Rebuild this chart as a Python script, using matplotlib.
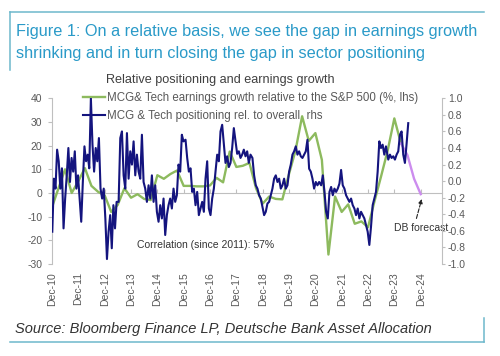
import numpy as np
import pandas as pd
import matplotlib
matplotlib.use("Agg")
import matplotlib.pyplot as plt
from matplotlib.lines import Line2D

plt.rcParams['font.family'] = ['Liberation Sans', 'DejaVu Sans']
plt.rcParams['axes.unicode_minus'] = False

# Earnings growth relative to S&P 500 (%, lhs), quarterly
green_dates = pd.date_range('2010-12-31', '2024-03-31', freq='QE')
green_vals = [-6, 2, 10, 0, 5, 10.5, 3, 0.5, -1, -8, -5, 2, -2, -0.5, -2.5, -3,
              7.5, 6, 8, 9.5, 3, 3, 2.8, 2.8, 3.2, 6.4, 4.5, 17.5, 11, 11.5, 12.7, 2,
              -4.5, -1.5, -2.5, -2.7, 8, 18, 32.4, 22, 25.3, 14, -26, -1.5, -8, -4.8,
              -13, -12, -14.5, -3.5, 7, 18, 31.5, 21]

# DB forecast (lhs)
fc_dates = pd.date_range('2024-03-31', '2024-12-31', freq='QE')
fc_vals = [21, 16, 6, -0.5]

# Positioning rel. to overall (rhs), read in segments
pos_a = [-0.61, 0.03, -0.09, 0.38, 0.24, -0.09, 0.155, -0.57, -0.21, 0.07, 0.40, -0.01,
         0.28, 0.115, 0.36, -0.09, 0.07, -0.21, -0.49, -0.01, 0.42, 0.24, 0.32, 0.155,
         1.0, 0.44, 0.115, 0.40, 0.24, 0.52, -0.09, -0.21, -0.09, -0.45, -0.94, -0.61,
         -0.41, -0.81, -0.29, -0.57, -0.25]
pos_b = [-0.25, 0.52, 0.60, 0.07, -0.09, 0.58, 0.03, 0.36, 0.20, 0.48, 0.07, 0.32,
         0.115, 0.03, 0.56, -0.01, -0.09, -0.25, -0.05, -0.21, 0.07, -0.25, -0.05, -0.37,
         -0.49, -0.29, -0.45, -0.21, -0.65, -0.41, -0.29, -0.21, -0.33, -0.09, -0.25, -0.17,
         0.20, 0.115, 0.56, 0.48]
pos_c = [0.50, 0.28, 0.115, 0.155, -0.13, -0.09, -0.29, -0.13, -0.41, -0.33, -0.25, -0.37,
         0.03, 0.24, -0.33, -0.41, -0.21, -0.09, 0.115, 0.32, 0.24, 0.60, 0.68, 0.45,
         0.22, 0.30, 0.17, 0.22, 0.40, 0.64, 0.48, 0.33, 0.36, 0.28, 0.32, 0.38,
         0.30, 0.36, 0.22, 0.32]
pos_d = [0.28, 0.07, -0.05, -0.09, -0.17, -0.21, -0.31, -0.41, -0.37, -0.27, -0.25, -0.17,
         -0.09, 0.03, 0.07, -0.01, 0.03, -0.09, -0.05, 0.03, -0.09, -0.05, 0.115, 0.20,
         0.32, 0.36, 0.42, 0.32, 0.36, 0.30, 0.28, 0.32, 0.36, 0.50, 0.15, 0.115,
         0.03, -0.09, -0.01, -0.05, -0.01]
pos_e = [-0.05, 0.07, -0.13, -0.37, -0.45, -0.13, -0.07, -0.17, -0.09, -0.13, -0.09, -0.03,
         0.135, -0.05, -0.09, -0.17, -0.21, -0.25, -0.21, -0.29, -0.33, -0.41, -0.33, -0.45,
         -0.37, -0.41, -0.45, -0.53, -0.61, -0.77, -0.55, -0.29, -0.21, -0.13, 0.115, 0.48,
         0.40, 0.44, 0.32, 0.42]
pos_f = [0.26, 0.32, 0.28, 0.30, 0.26, 0.32, 0.36, 0.56, 0.60, 0.32, 0.22, 0.45, 0.70]

pos_segments = [
    ('2011-01-04', '2013-06-14', pos_a),
    ('2013-07-12', '2015-12-29', pos_b),
    ('2016-01-26', '2018-07-15', pos_c),
    ('2018-08-11', '2021-02-21', pos_d),
    ('2021-03-21', '2023-09-06', pos_e),
    ('2023-10-08', '2024-07-11', pos_f),
]

tick_dates = pd.date_range('2010-12-31', '2024-12-31', freq='YE')
tick_labels = [d.strftime('Dec-%y') for d in tick_dates]
left_ticks = [-30, -20, -10, 0, 10, 20, 30, 40]
right_ticks = [-1.0, -0.8, -0.6, -0.4, -0.2, 0.0, 0.2, 0.4, 0.6, 0.8, 1.0]

GREEN = '#8DBA5E'
NAVY = '#14147E'
VIOLET = '#CC8CEE'
GRAY = '#BFBFBF'
TXT = '#595959'
TEAL = '#2A9AC8'
FRAME = '#6DB8CC'

pos_dates = pd.DatetimeIndex([])
pos_vals = []
for start, end, vals in pos_segments:
    pos_dates = pos_dates.append(pd.date_range(start, end, periods=len(vals)))
    pos_vals += vals

fig = plt.figure(figsize=(5.0, 3.56), dpi=100)
ax = fig.add_axes([0.104, 0.2584, 0.7794, 0.4655])
ax2 = ax.twinx()
ax.patch.set_visible(False)
ax2.patch.set_visible(False)

l1, = ax.plot(green_dates, green_vals, color=GREEN, lw=1.7)
ax.plot(fc_dates, fc_vals, color=VIOLET, lw=1.7)
l2, = ax2.plot(pos_dates, pos_vals, color=NAVY, lw=1.5)

ax.set_ylim(-30, 40)
ax2.set_ylim(-1.0, 1.0)
ax.set_xlim(pd.Timestamp('2010-12-31'), pd.Timestamp('2025-10-18'))
ax.set_yticks(left_ticks)
ax2.set_yticks(right_ticks)
ax2.set_yticklabels([f'{v:.1f}' for v in right_ticks])

ax.set_xticks(tick_dates)
ax.set_xticklabels(tick_labels, rotation=90, fontsize=7.5, color=TXT)
ax.tick_params(axis='x', length=0, pad=6)
ax.tick_params(axis='y', labelsize=7.5, labelcolor=TXT, color=GRAY, length=3, pad=4)
ax2.tick_params(axis='y', labelsize=7.5, labelcolor=TXT, color=GRAY, length=2, pad=2.5)

for a in (ax, ax2):
    for s in ('top', 'bottom'):
        a.spines[s].set_visible(False)
ax.spines['right'].set_visible(False)
ax2.spines['left'].set_visible(False)
ax.spines['left'].set_color(GRAY)
ax2.spines['right'].set_color(GRAY)

# zero line with year ticks
sec = ax.secondary_xaxis(30 / 70)
sec.set_xticks(tick_dates)
sec.set_xticklabels([])
sec.tick_params(axis='x', direction='in', length=3, color=GRAY)
sec.spines['bottom'].set_color(GRAY)

ax.text(pd.Timestamp('2014-03-28'), -21.8, 'Correlation (since 2011): 57%',
        fontsize=7.5, color='#333333', ha='left', va='center')
ax.annotate('DB forecast', xy=(pd.Timestamp('2025-01-19'), -2.0),
            xytext=(pd.Timestamp('2024-12-31'), -14.6), fontsize=7.5, color='#333333',
            ha='center', va='center',
            arrowprops=dict(arrowstyle='-|>', linestyle='--', color='#222222', lw=0.8,
                            relpos=(0.4, 1.0), shrinkA=1, shrinkB=1, mutation_scale=6))

leg = fig.legend([l1, l2], ['MCG& Tech earnings growth relative to the S&P 500 (%, lhs)',
                            'MCG & Tech positioning rel. to overall, rhs'],
                 loc='upper left', bbox_to_anchor=(0.166, 0.742), frameon=False,
                 fontsize=8.3, handlelength=1.9, handletextpad=0.2, labelspacing=0.5,
                 borderpad=0, borderaxespad=0)
for t in leg.get_texts():
    t.set_color(TXT)
leg.set_zorder(-1)

fig.text(0.44, 1 - 82.7 / 356, 'Relative positioning and earnings growth',
         fontsize=9.1, color='#404040', ha='center', va='baseline')
fig.text(0.032, 1 - 36 / 356, 'Figure 1: On a relative basis, we see the gap in earnings growth',
         fontsize=11.7, color=TEAL, ha='left', va='baseline')
fig.text(0.032, 1 - 58.3 / 356, 'shrinking and in turn closing the gap in sector positioning',
         fontsize=11.7, color=TEAL, ha='left', va='baseline')
fig.text(0.03, 1 - 333.3 / 356, 'Source: Bloomberg Finance LP, Deutsche Bank Asset Allocation',
         fontsize=10.5, color='#333333', style='italic', ha='left', va='baseline')

# frame corners
top_y, bot_y = 1 - 11.7 / 356, 1 - 342 / 356
fig.add_artist(Line2D([0.02, 0.967], [top_y, top_y], color=FRAME, lw=1.1))
fig.add_artist(Line2D([0.02, 0.02], [top_y, 1 - 70 / 356], color=FRAME, lw=1.1))
fig.add_artist(Line2D([0.02, 0.967], [bot_y, bot_y], color=FRAME, lw=1.1))
fig.add_artist(Line2D([0.967, 0.967], [bot_y, 1 - 318 / 356], color=FRAME, lw=1.1))

fig.savefig('out.png', dpi=100)
